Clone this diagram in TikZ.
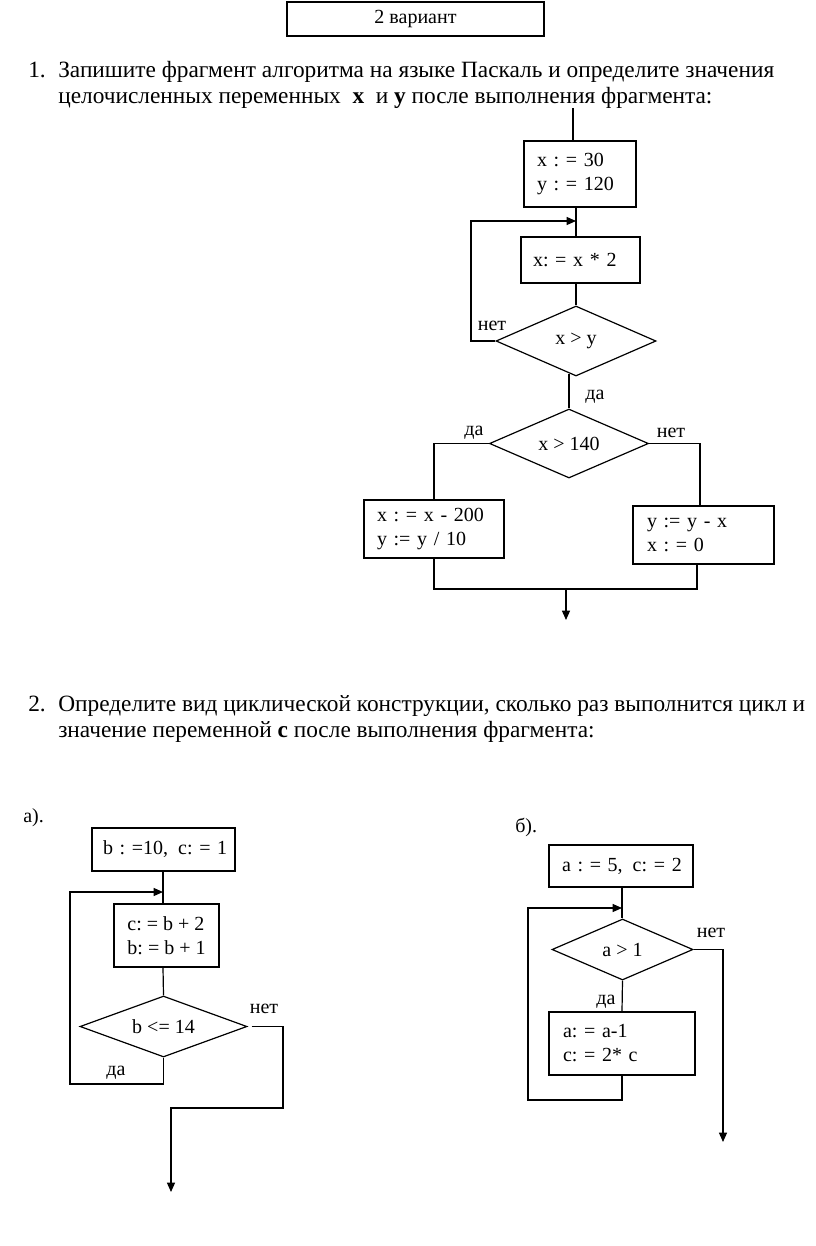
\documentclass[tikz,border=0pt]{standalone}
\usepackage{fontspec}
\setmainfont{Liberation Serif}
\usetikzlibrary{arrows.meta,shapes.geometric,calc}
\newcommand\mychartfont{\fontsize{15pt}{18pt}\selectfont\frenchspacing}
\newcommand\mybodyfont{\fontsize{17.5pt}{21pt}\selectfont}
\begin{document}
\begin{tikzpicture}[x=0.75pt,y=-0.75pt,
  ln/.style={line width=0.9pt},
  arr/.style={line width=0.9pt,-{Triangle[length=7pt,width=6pt]}},
  box/.style={draw,line width=0.9pt,rectangle,align=left,font=\mychartfont,inner ysep=0pt},
  dia/.style={draw,line width=0.9pt,diamond,aspect=2.3,inner sep=0pt,font=\mychartfont},
  lbl/.style={font=\mychartfont,inner sep=0pt},
  maintxt/.style={font=\mybodyfont,anchor=base west,inner sep=0pt}]
\fill[white] (0,0) rectangle (816,1246);
\useasboundingbox (0,0) rectangle (816,1246);

% header
\node[box,align=center,minimum width=192.75pt,minimum height=25.5pt,font=\fontsize{15pt}{17pt}\selectfont] (hdr) at (415.5,19) {2 вариант};

% task 1 text
\node[maintxt] (n1) at (28,77) {1.};
\node[maintxt] (t1a) at (58,77) {Запишите фрагмент алгоритма на языке Паскаль и определите значения};
\node[maintxt] (t1b) at (58,103) {целочисленных переменных\enspace\textbf{x}\enspace и \textbf{y} после выполнения фрагмента:};

% top flowchart
\coordinate (top) at (573,108);
\coordinate (cx) at (576,0);
\node[box,minimum width=84pt,minimum height=49.5pt,text width=64.5pt,inner xsep=9.75pt] (b1) at (580,174) {\mbox{x : = 30}\\\mbox{y : = 120}};
\node[box,minimum width=89.25pt,minimum height=34.5pt,text width=71.25pt,inner xsep=9pt] (b2) at (580.5,260) {\mbox{x: = x * 2}\\[-7pt]};
\node[dia,minimum width=120pt,minimum height=52.5pt] (D1) at (576,341) {x > y};
\node[dia,minimum width=119.25pt,minimum height=51.75pt] (D2) at (569,443.5) {x > 140};
\node[box,minimum width=105pt,minimum height=43.5pt,text width=85.5pt,inner xsep=9.75pt] (b3) at (434,529) {\mbox{x : = x - 200}\\\mbox{y := y / 10}};
\node[box,minimum width=105.75pt,minimum height=43.5pt,text width=84.75pt,inner xsep=10.5pt] (b4) at (703.5,535) {\mbox{y := y - x}\\\mbox{x : = 0}};

\coordinate (j1) at (576,221);
\coordinate (L1) at (471,221);
\coordinate (mL) at (434,589);
\coordinate (mR) at (697,589);
\coordinate (mC) at (566,589);
\coordinate (end1) at (566,620);

\draw[ln] (top) -- (top |- b1.north);
\draw[ln] (cx |- b1.south) -- (cx |- b2.north);
\draw[arr] (D1.west) -| (L1) -- (j1);
\draw[ln] (cx |- b2.south) -- (D1.north);
\draw[ln] ($(D2.north |- D1.south)+(0,-3)$) -- (D2.north);
\draw[ln] (D2.west) -| (b3.north);
\draw[ln] (D2.east) -| ($(b4.north)+(-3.5,0)$);
\draw[ln] (b3.south) -- (mL) -- (mR) -- (mR |- b4.south);
\draw[arr] (mC) -- (end1);

\node[lbl] (l1) at (492,326) {нет};
\node[lbl] (l2) at (595,397) {да};
\node[lbl] (l3) at (474,433) {да};
\node[lbl] (l4) at (671,433) {нет};

% task 2 text
\node[maintxt] (n2) at (28,711) {2.};
\node[maintxt] (t2a) at (58,711) {Определите вид циклической конструкции, сколько раз выполнится цикл и};
\node[maintxt] (t2b) at (58,737) {значение переменной \textbf{с} после выполнения фрагмента:};

% chart a
\node[lbl,anchor=west] (la) at (23,818) {а).};
\coordinate (ax) at (163,0);
\node[box,minimum width=107.25pt,minimum height=32.25pt,text width=90.75pt,inner xsep=8.25pt] (a1) at (163.5,849.5) {\mbox{b : =10,\enspace c: = 1}};
\node[box,minimum width=78.75pt,minimum height=47.25pt] (a2) at (166.5,935.5) {c: = b + 2\\b: = b + 1};
\node[dia,minimum width=125.25pt,minimum height=45.75pt] (Da) at (163.5,1026.5) {b <= 14};
\coordinate (aj) at (163,892);
\coordinate (aL) at (70,892);
\coordinate (aB) at (70,1084);
\coordinate (aR2) at (283,1108);
\coordinate (aR3) at (171,1108);
\coordinate (aEnd) at (171,1192);
\draw[ln] (ax |- a1.south) -- (ax |- a2.north);
\draw[ln] (ax |- a2.south) -- (Da.north);
\draw[arr] (Da.south) |- (aB) -- (aL) -- (aj);
\draw[arr] ($(Da.east)+(4,0)$) -| (aR2) -- (aR3) -- (aEnd);
\node[lbl] (l5) at (264,1009) {нет};
\node[lbl] (l6) at (116,1073) {да};

% chart b
\node[lbl,anchor=west] (lb) at (515,827) {б).};
\coordinate (bx) at (622,0);
\node[box,minimum width=108pt,minimum height=31.5pt,text width=88.5pt,inner xsep=9.75pt] (bb1) at (621,866) {\mbox{a : = 5,\enspace c: = 2}};
\node[dia,minimum width=105.75pt,minimum height=45.75pt] (Db) at (622.5,949.5) {a > 1\hspace{10pt}};
\node[box,minimum width=109.5pt,minimum height=47.25pt,text width=88.5pt,inner xsep=10.5pt] (bb2) at (622,1043.5) {\mbox{a: = a-1}\\\mbox{c: = 2* c}};
\coordinate (bj) at (622,908);
\coordinate (bL) at (528,908);
\coordinate (bB) at (528,1100);
\coordinate (bEnd) at (723,1142);
\draw[ln] (bx |- bb1.south) -- (bx |- Db.north);
\draw[ln] (Db.south) -- (bx |- bb2.north);
\draw[arr] (bx |- bb2.south) |- (bB) -- (bL) -- (bj);
\draw[arr] (Db.east) -| (bEnd);
\node[lbl] (l7) at (711,933) {нет};
\node[lbl] (l8) at (606,1002) {да};
\end{tikzpicture}
\end{document}
